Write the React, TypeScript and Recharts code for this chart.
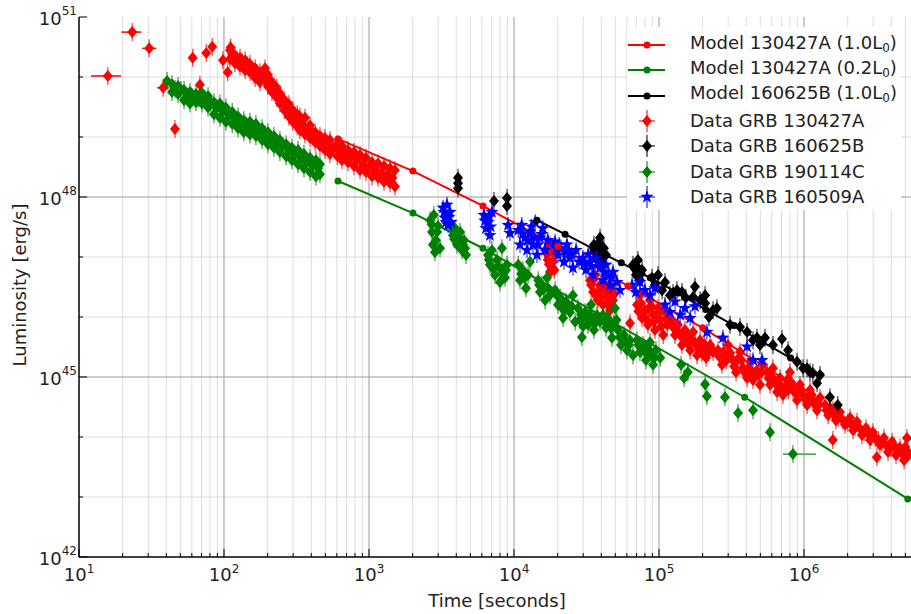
import React from "react";
import {
  ComposedChart,
  Scatter,
  Line,
  XAxis,
  YAxis,
  ReferenceLine,
  ErrorBar,
} from "recharts";

type Pt = [number, number];

const FONT = "'DejaVu Sans', sans-serif";
const RED = "#ff0000";
const GREEN = "#008000";
const BLACK = "#000000";
const BLUE = "#0000ff";

// axis ticks
const xDomain = [10, 5.47e6];
const yDomain = [1e42, 1e51];
const xMajorTicks = [1e1, 1e2, 1e3, 1e4, 1e5, 1e6];
const minorSteps = [2, 3, 4, 5, 6, 7, 8, 9];
const yDecadeTicks = [1e42, 1e43, 1e44, 1e45, 1e46, 1e47, 1e48, 1e49, 1e50, 1e51];
const yLabelledTicks = [1e42, 1e45, 1e48, 1e51];

// model curves [time s, luminosity erg/s]
const model130427A: Pt[] = [
  [611, 9.3e48], [2010, 2.7e48], [6110, 7.1e47], [2.01e4, 1.5e47], [6.11e4, 3.3e46],
  [2.0e5, 6.6e45], [6.0e5, 1.26e45], [2.0e6, 1.9e44], [5.2e6, 4.7e43],
];
const model130427Alow: Pt[] = [
  [611, 1.85e48], [2010, 5.4e47], [6110, 1.4e47], [3.9e5, 4.6e44], [5.2e6, 9.3e42],
];
const model160625B: Pt[] = [
  [1.44e4, 4.1e47], [2.25e4, 2.4e47], [3.5e4, 1.38e47], [5.5e4, 8.0e46], [8.7e4, 4.5e46],
  [1.36e5, 2.5e46], [2.1e5, 1.33e46], [3.3e5, 7.2e45], [5.2e5, 3.8e45], [8.1e5, 2.07e45],
  [1.29e6, 1.1e45],
];

// GRB 130427A data
const grb130427AEarlyT = [15.8, 23.3, 30.5, 38.1];
const grb130427AEarlyL = [1.04e50, 5.6e50, 3.0e50, 6.6e49];
const grb130427AEarlyTLo = [12.1, 19.6, 27.3, 34.6];
const grb130427AEarlyTHi = [19.5, 26.9, 34.1, 41.8];

const grb130427A: Pt[] = [
  [45.9, 1.36e49], [60.8, 2.1e50], [68.2, 7.4e49], [75.5, 2.5e50], [83, 3.2e50],
  [98.4, 1.9e50], [106, 1.2e50], [111, 3.1e50],
  [110, 2.8e50], [110, 2.0e50], [119, 2.3e50], [119, 1.7e50], [129, 2.1e50], [129, 1.5e50],
  [140, 1.9e50], [140, 1.3e50], [151, 1.65e50], [151, 1.2e50], [164, 1.4e50], [164, 9.6e49],
  [177, 1.2e50], [177, 8.2e49], [192, 1.4e50], [192, 8.9e49], [200, 1.1e50], [200, 7.1e49],
  [214, 8.2e49], [214, 5.6e49], [231, 6.6e49], [231, 4.5e49], [243, 5.2e49], [243, 3.6e49],
  [261, 4.1e49], [261, 2.8e49], [280, 3.5e49], [280, 2.2e49], [298, 2.8e49], [298, 1.8e49],
  [320, 2.4e49], [320, 1.5e49], [334, 2.2e49], [334, 1.3e49], [362, 2.1e49], [362, 1.1e49],
  [392, 1.55e49], [392, 9.6e48], [425, 1.2e49], [425, 8.2e48], [459, 1.04e49], [459, 7.1e48],
  [497, 9.6e48], [497, 6.1e48], [538, 8.9e48], [538, 5.2e48], [606, 7.6e48], [606, 4.8e48],
  [651, 7.1e48], [651, 4.1e48], [716, 6.1e48], [716, 3.8e48], [788, 5.6e48], [788, 3.3e48],
  [867, 5.0e48], [867, 2.8e48], [953, 4.5e48], [953, 2.6e48], [1050, 3.8e48], [1050, 2.2e48],
  [1154, 3.6e48], [1154, 2.1e48], [1269, 3.3e48], [1269, 1.8e48], [1396, 3.0e48], [1396, 1.7e48],
  [1510, 2.8e48], [1510, 1.5e48],
  [114, 2.4e50], [124, 1.9e50], [134, 1.75e50], [145, 1.55e50], [157, 1.3e50], [170, 1.15e50],
  [184, 1.05e50], [196, 1.1e50], [207, 8.9e49], [222, 6.8e49], [237, 5.4e49], [252, 4.4e49],
  [270, 3.4e49], [289, 2.8e49], [309, 2.3e49], [327, 1.9e49], [348, 1.6e49], [377, 1.4e49],
  [408, 1.15e49], [442, 9.5e48], [478, 8.4e48], [517, 7.5e48], [572, 6.6e48], [628, 5.8e48],
  [683, 5.1e48], [750, 4.6e48], [827, 4.2e48], [910, 3.5e48], [1000, 3.1e48], [1100, 2.8e48],
  [1210, 2.5e48], [1330, 2.3e48], [1450, 2.1e48],
  [1.64e4, 1.3e47], [1.71e4, 8.9e46], [1.77e4, 1.6e47], [1.83e4, 6.6e46], [1.92e4, 1.08e47], [1.77e4, 5.6e46],
  [1.68e4, 1.15e47], [1.74e4, 7.6e46], [1.8e4, 1.25e47], [1.86e4, 8.3e46], [1.9e4, 6.1e46],
  [3.34e4, 4.1e46], [3.51e4, 2.6e46], [3.62e4, 5.0e46], [3.79e4, 1.9e46], [3.92e4, 3.4e46], [4.11e4, 1.6e46],
  [4.25e4, 2.8e46], [4.45e4, 2.2e46], [4.59e4, 1.3e46], [4.82e4, 1.9e46], [4.74e4, 3.0e46], [6.31e4, 7.9e45],
  [3.4e4, 3.4e46], [3.56e4, 4.3e46], [3.7e4, 2.3e46], [3.86e4, 2.8e46], [4.0e4, 2.1e46], [4.18e4, 3.6e46],
  [4.38e4, 1.7e46], [4.52e4, 2.5e46], [4.66e4, 1.6e46], [4.9e4, 2.4e46],
  [7.05e4, 1.6e46], [7.39e4, 2.3e46], [7.64e4, 9.6e45], [8.0e4, 1.3e46], [8.39e4, 7.4e45], [8.67e4, 1.9e46],
  [9.1e4, 1.08e46], [9.38e4, 6.1e45], [9.85e4, 1.4e46], [1.02e5, 8.9e45], [1.07e5, 5.0e45], [1.1e5, 1.2e46],
  [1.14e5, 7.4e45], [7.2e4, 1.25e46], [7.5e4, 1.7e46], [7.8e4, 1.15e46], [8.2e4, 9.0e45], [8.5e4, 1.4e46],
  [8.9e4, 1.5e46], [9.2e4, 8.3e45], [9.6e4, 1.1e46], [1.0e5, 1.15e46], [1.04e5, 7.0e45], [1.12e5, 9.5e45],
  [1.23e5, 8.9e45], [1.29e5, 5.0e45], [1.35e5, 7.4e45], [1.44e5, 3.4e45], [1.51e5, 6.1e45], [1.58e5, 4.1e45],
  [1.64e5, 2.8e45], [1.72e5, 5.6e45], [1.83e5, 2.3e45], [1.92e5, 4.1e45], [2.01e5, 3.0e45], [2.11e5, 2.1e45],
  [2.25e5, 3.4e45], [2.36e5, 2.6e45], [1.26e5, 6.6e45], [1.32e5, 6.0e45], [1.4e5, 5.0e45], [1.47e5, 4.5e45],
  [1.55e5, 5.0e45], [1.61e5, 3.4e45], [1.68e5, 4.3e45], [1.78e5, 3.6e45], [1.87e5, 3.1e45], [1.97e5, 2.5e45],
  [2.06e5, 3.5e45], [2.2e5, 2.6e45], [2.3e5, 3.0e45],
  [2.55e5, 2.8e45], [2.72e5, 1.6e45], [2.85e5, 2.3e45], [2.99e5, 3.4e45], [3.24e5, 1.9e45], [3.4e5, 1.2e45],
  [3.62e5, 2.6e45], [3.79e5, 1.4e45], [4.05e5, 9.6e44], [4.25e5, 1.8e45], [4.45e5, 8.9e44], [4.74e5, 1.3e45],
  [4.97e5, 7.4e44], [5.21e5, 1.6e45], [2.6e5, 2.2e45], [2.78e5, 2.6e45], [2.92e5, 1.9e45], [3.1e5, 2.5e45],
  [3.3e5, 1.5e45], [3.5e5, 2.0e45], [3.7e5, 1.9e45], [3.9e5, 1.2e45], [4.15e5, 1.4e45], [4.35e5, 1.2e45],
  [4.6e5, 1.05e45], [4.85e5, 1.1e45], [5.1e5, 1.2e45],
  [5.56e5, 1.2e45], [5.83e5, 7.4e44], [6.11e5, 1.4e45], [6.52e5, 5.6e44], [6.83e5, 9.6e44], [7.16e5, 5.0e44],
  [7.64e5, 8.9e44], [8.0e5, 1.2e45], [8.39e5, 6.1e44], [8.95e5, 4.1e44], [9.38e5, 7.4e44], [9.85e5, 5.0e44],
  [1.05e6, 3.4e44], [1.1e6, 6.1e44], [1.15e6, 4.1e44], [1.23e6, 2.8e44], [1.29e6, 4.5e44],
  [5.7e5, 9.5e44], [6.0e5, 1.0e45], [6.3e5, 8.0e44], [6.7e5, 7.5e44], [7.0e5, 7.0e44], [7.4e5, 6.6e44],
  [7.8e5, 6.0e44], [8.2e5, 8.0e44], [8.7e5, 5.5e44], [9.1e5, 5.6e44], [9.6e5, 6.0e44], [1.02e6, 4.3e44],
  [1.07e6, 4.6e44], [1.13e6, 5.0e44], [1.19e6, 3.5e44], [1.26e6, 3.4e44],
  [1.4e6, 3.4e44], [1.47e6, 2.3e44], [1.58e6, 2.8e44], [1.58e6, 8.9e43], [1.66e6, 1.9e44], [1.77e6, 2.6e44],
  [1.92e6, 1.6e44], [2.08e6, 2.1e44], [2.18e6, 1.3e44], [2.32e6, 1.8e44], [2.51e6, 1.08e44], [2.68e6, 1.4e44],
  [2.85e6, 8.9e43], [2.99e6, 1.2e44], [3.18e6, 4.6e43], [3.34e6, 7.4e43], [3.56e6, 9.6e43], [3.8e6, 5.6e43],
  [4.05e6, 8.3e43], [4.31e6, 5.0e43], [4.59e6, 6.6e43], [4.9e6, 4.1e43], [5.13e6, 9.6e43], [5.21e6, 5.6e43],
  [1.43e6, 2.8e44], [1.52e6, 3.0e44], [1.62e6, 2.3e44], [1.72e6, 2.1e44], [1.85e6, 1.9e44], [2.0e6, 1.75e44],
  [2.13e6, 1.6e44], [2.25e6, 1.5e44], [2.42e6, 1.4e44], [2.6e6, 1.2e44], [2.78e6, 1.15e44], [2.92e6, 1.0e44],
  [3.1e6, 9.5e43], [3.26e6, 8.9e43], [3.45e6, 8.0e43], [3.7e6, 7.2e43], [3.95e6, 6.6e43], [4.2e6, 7.0e43],
  [4.45e6, 5.8e43], [4.75e6, 5.2e43], [5.0e6, 6.8e43],
];

// GRB 160625B data
const grb160625B: Pt[] = [
  [4110, 2.1e48], [4110, 1.7e48], [4110, 1.4e48], [7280, 8.6e47], [8950, 9.6e47], [8950, 7.1e47],
  [3.56e4, 1.6e47], [3.68e4, 9.6e46], [3.79e4, 1.3e47], [3.92e4, 2.1e47], [4.05e4, 8.3e46], [4.17e4, 1.4e47],
  [4.31e4, 1.08e47], [3.6e4, 1.2e47], [3.86e4, 1.75e47], [4.0e4, 1.15e47],
  [6.62e4, 7.4e46], [6.93e4, 5.0e46], [7.16e4, 8.9e46], [7.39e4, 4.1e46], [7.64e4, 6.1e46],
  [6.8e4, 6.3e46], [7.0e4, 7.0e46], [7.5e4, 5.2e46],
  [8.95e4, 4.5e46], [9.38e4, 3.4e46], [9.85e4, 5.0e46], [1.05e5, 2.8e46], [1.1e5, 3.8e46], [1.19e5, 2.3e46],
  [1.25e5, 2.5e46], [1.33e5, 2.8e46], [1.44e5, 2.6e46], [1.53e5, 2.1e46], [1.72e5, 2.15e46], [1.77e5, 3.2e46],
  [1.92e5, 1.9e46], [2.08e5, 2.3e46], [2.08e5, 1.7e46], [2.21e5, 1.0e46], [2.36e5, 1.3e46], [2.51e5, 1.4e46],
  [3.09e5, 7.4e45], [3.62e5, 6.8e45], [4.05e5, 5.6e45], [4.45e5, 4.1e45], [4.74e5, 4.5e45], [4.97e5, 3.4e45],
  [5.38e5, 4.5e45], [6.11e5, 3.4e45], [7.05e5, 4.3e45], [7.76e5, 2.8e45], [8.95e5, 1.8e45], [9.85e5, 1.4e45],
  [1.05e6, 1.4e45], [1.1e6, 1.2e45], [1.15e6, 1.17e45], [1.23e6, 7.9e44], [1.29e6, 1.08e45], [1.51e6, 4.6e44],
  [1.71e6, 3.4e44],
];

// GRB 190114C data
const grb190114C: Pt[] = [
  [40.5, 8.6e49], [43.8, 7.6e49], [43.8, 5.6e49], [48.2, 7.1e49], [48.2, 5.2e49], [53, 6.1e49], [53, 4.1e49],
  [58.3, 5.6e49], [58.3, 3.6e49], [64.1, 5.2e49], [64.1, 3.8e49], [70.5, 5.4e49], [70.5, 3.6e49],
  [77.6, 4.8e49], [77.6, 3.1e49], [85.3, 3.8e49], [85.3, 2.4e49], [93.8, 3.6e49], [93.8, 2.1e49],
  [103, 3.1e49], [103, 1.8e49], [114, 2.6e49], [114, 1.65e49], [125, 2.2e49], [125, 1.4e49],
  [137, 1.9e49], [137, 1.2e49], [151, 1.8e49], [151, 1.1e49], [166, 1.65e49], [166, 1.04e49],
  [183, 1.4e49], [183, 8.9e48], [201, 1.2e49], [201, 7.6e48], [221, 1.04e49], [221, 6.6e48],
  [243, 8.9e48], [243, 5.6e48], [268, 7.6e48], [268, 4.8e48], [294, 6.6e48], [294, 4.1e48],
  [324, 6.1e48], [324, 3.5e48], [356, 5.2e48], [356, 3.0e48], [392, 4.5e48], [392, 2.6e48],
  [431, 4.1e48], [431, 2.2e48], [459, 3.5e48], [459, 2.4e48],
  [46, 6.3e49], [50.5, 6.1e49], [55.5, 4.8e49], [61, 4.6e49], [67, 4.4e49], [74, 4.3e49], [81, 3.8e49],
  [89, 3.0e49], [98, 2.7e49], [108, 2.3e49], [119, 2.0e49], [131, 1.7e49], [144, 1.5e49], [158, 1.4e49],
  [174, 1.25e49], [192, 1.1e49], [211, 9.2e48], [232, 8.0e48], [255, 7.0e48], [281, 6.0e48], [309, 5.1e48],
  [340, 4.3e48], [374, 3.8e48], [411, 3.3e48], [445, 3.0e48],
  [2640, 4.1e47], [2720, 2.6e47], [2800, 5.0e47], [2900, 1.9e47], [2990, 3.3e47], [3090, 1.4e47], [2850, 1.2e47],
  [2700, 3.5e47], [2950, 2.6e47], [2760, 1.6e47],
  [3620, 3.8e47], [3790, 2.3e47], [3920, 3.0e47], [4050, 1.6e47], [4250, 2.6e47], [4380, 1.3e47],
  [4520, 1.9e47], [4670, 1.08e47], [3700, 3.3e47], [3860, 2.0e47], [4150, 2.1e47], [4450, 1.6e47], [4600, 1.4e47],
  [6620, 1.08e47], [6820, 7.4e46], [7050, 1.3e47], [7390, 5.0e46], [7640, 8.9e46], [8000, 3.8e46],
  [8260, 6.1e46], [8260, 1.4e47], [8670, 4.5e46], [8950, 7.4e46],
  [6700, 9.0e46], [7200, 6.3e46], [7800, 7.0e46], [8400, 5.2e46], [8800, 6.0e46],
  [1.07e4, 7.4e46], [1.1e4, 4.1e46], [1.15e4, 6.1e46], [1.21e4, 3.0e46], [1.25e4, 5.0e46], [1.29e4, 8.3e46],
  [1.12e4, 5.2e46], [1.18e4, 4.5e46],
  [1.47e4, 4.1e46], [1.51e4, 2.6e46], [1.56e4, 3.4e46], [1.64e4, 1.9e46], [1.69e4, 4.5e46], [1.77e4, 2.3e46],
  [1.49e4, 3.4e46], [1.6e4, 2.9e46], [1.72e4, 3.0e46],
  [1.92e4, 2.8e46], [2.01e4, 1.6e46], [2.08e4, 2.1e46], [2.18e4, 9.6e45], [2.28e4, 1.8e46], [2.43e4, 1.2e46],
  [2.55e4, 2.3e46], [2.64e4, 8.3e45], [1.98e4, 2.3e46], [2.12e4, 1.45e46], [2.24e4, 1.3e46], [2.36e4, 1.6e46],
  [2.5e4, 1.5e46],
  [2.76e4, 1.4e46], [2.85e4, 8.9e45], [2.94e4, 4.6e45], [3.09e4, 1.2e46], [3.24e4, 7.4e45], [3.4e4, 1.6e46],
  [3.56e4, 6.1e45], [3.73e4, 1.08e46], [3.92e4, 8.3e45], [2.9e4, 1.1e46], [3.0e4, 7.0e45], [3.16e4, 9.5e45],
  [3.32e4, 1.1e46], [3.48e4, 9.0e45], [3.65e4, 8.0e45],
  [4.11e4, 1.08e46], [4.31e4, 6.6e45], [4.52e4, 8.9e45], [4.74e4, 4.5e45], [4.97e4, 1.4e46], [5.21e4, 6.1e45],
  [5.47e4, 3.4e45], [5.74e4, 5.0e45], [6.02e4, 2.8e45], [6.31e4, 4.1e45], [6.62e4, 2.3e45],
  [4.2e4, 8.5e45], [4.4e4, 9.8e45], [4.64e4, 6.6e45], [4.86e4, 7.6e45], [5.1e4, 8.9e45], [5.35e4, 4.6e45],
  [5.6e4, 4.1e45], [5.9e4, 3.8e45], [6.2e4, 3.4e45],
  [7.05e4, 4.1e45], [7.39e4, 2.6e45], [7.76e4, 3.4e45], [8.14e4, 1.9e45], [8.67e4, 3.8e45], [9.1e4, 1.6e45],
  [9.53e4, 2.8e45], [1.02e5, 2.1e45], [7.2e4, 3.4e45], [7.6e4, 2.9e45], [8.0e4, 2.6e45], [8.4e4, 2.9e45],
  [8.9e4, 2.3e45], [9.3e4, 2.1e45],
  [1.42e5, 1.6e45], [1.49e5, 9.6e44], [1.58e5, 1.2e45], [2.08e5, 7.6e44], [2.14e5, 4.8e44], [2.85e5, 4.6e44],
  [3.51e5, 2.5e44], [4.45e5, 2.8e44], [5.83e5, 1.2e44],
];
const grb190114CLateT = [8.39e5];
const grb190114CLateL = [5.2e43];
const grb190114CLateTLo = [7.16e5];
const grb190114CLateTHi = [1.21e6];

// GRB 160509A data
const grb160509A: Pt[] = [
  [3240, 6.6e47], [3340, 4.5e47], [3450, 7.4e47], [3510, 3.4e47], [3620, 5.6e47], [3680, 3.8e47],
  [3300, 5.6e47], [3560, 4.6e47], [3400, 3.8e47],
  [6210, 5.0e47], [6410, 3.0e47], [6620, 3.8e47], [6820, 2.3e47], [7050, 5.6e47], [9100, 3.4e47], [9380, 2.5e47],
  [6300, 4.0e47], [6700, 4.6e47], [6900, 3.2e47],
  [1.07e4, 2.8e47], [1.1e4, 1.6e47], [1.13e4, 3.4e47], [1.19e4, 2.1e47], [1.23e4, 1.3e47], [1.29e4, 2.6e47],
  [1.35e4, 1.6e47], [1.4e4, 3.8e47], [1.44e4, 1.08e47], [1.51e4, 2.1e47], [1.58e4, 3.0e47], [1.64e4, 1.3e47],
  [1.71e4, 1.9e47], [1.15e4, 2.4e47], [1.25e4, 1.9e47], [1.32e4, 3.2e47], [1.38e4, 2.1e47], [1.47e4, 1.6e47],
  [1.55e4, 2.4e47],
  [1.92e4, 1.8e47], [2.01e4, 1.08e47], [2.11e4, 1.4e47], [2.21e4, 8.3e46], [2.32e4, 1.6e47], [2.43e4, 9.6e46],
  [2.55e4, 6.6e46], [2.68e4, 1.3e47], [2.81e4, 8.3e46], [1.95e4, 1.4e47], [2.05e4, 1.6e47], [2.26e4, 1.2e47],
  [2.38e4, 1.3e47], [2.5e4, 1.1e47],
  [2.99e4, 9.6e46], [3.14e4, 6.1e46], [3.34e4, 8.3e46], [3.51e4, 5.0e46], [3.68e4, 9.6e46], [3.92e4, 6.6e46],
  [4.11e4, 4.1e46], [4.31e4, 7.4e46], [4.59e4, 3.4e46], [4.82e4, 5.6e46], [5.13e4, 3.8e46], [5.38e4, 2.8e46],
  [3.05e4, 7.6e46], [3.25e4, 1.1e47], [3.42e4, 7.0e46], [3.8e4, 8.0e46], [4.2e4, 5.6e46], [4.45e4, 5.0e46],
  [4.7e4, 4.5e46],
  [6.52e4, 3.4e46], [6.93e4, 2.6e46], [7.39e4, 3.8e46], [8.0e4, 2.8e46], [8.67e4, 2.3e46], [9.38e4, 3.0e46],
  [1.1e5, 1.6e46], [1.19e5, 1.2e46], [1.29e5, 1.8e46], [1.4e5, 1.08e46], [1.51e5, 1.4e46], [1.64e5, 9.6e45],
  [1.77e5, 1.5e46],
  [2.14e5, 5.6e45], [2.76e5, 4.5e45], [4.05e5, 3.2e45], [4.45e5, 1.9e45], [5.13e5, 1.9e45],
];

const toRows = (pts: Pt[]) => pts.map(([t, L]) => ({ t, L }));
const withXErr = (ts: number[], ls: number[], lo: number[], hi: number[]) =>
  ts.map((t, i) => ({ t, L: ls[i], xErr: [t - lo[i], hi[i] - t] }));

const isDecade = (v: number) => Math.abs(Math.log10(v) - Math.round(Math.log10(v))) < 1e-6;

const xTicks: number[] = [];
xMajorTicks.forEach((d) => {
  xTicks.push(d);
  minorSteps.forEach((s) => {
    if (d * s <= xDomain[1]) xTicks.push(d * s);
  });
});
const xMinorTicks = xTicks.filter((v) => !isDecade(v));

const makeDiamond = (color: string) => (props: any) => {
  const { cx, cy } = props;
  if (cx == null || cy == null) return <g />;
  return (
    <g>
      <line x1={cx} x2={cx} y1={cy - 9} y2={cy + 9} stroke={color} strokeWidth={1.3} strokeOpacity={0.7} />
      <polygon
        points={`${cx},${cy - 6} ${cx + 5},${cy} ${cx},${cy + 6} ${cx - 5},${cy}`}
        fill={color}
      />
    </g>
  );
};

const starPath = (cx: number, cy: number, R: number, r: number) => {
  let d = "";
  for (let i = 0; i < 10; i++) {
    const a = -Math.PI / 2 + (i * Math.PI) / 5;
    const rad = i % 2 === 0 ? R : r;
    d += (i ? "L" : "M") + (cx + rad * Math.cos(a)).toFixed(2) + "," + (cy + rad * Math.sin(a)).toFixed(2);
  }
  return d + "Z";
};

const makeStar = (color: string) => (props: any) => {
  const { cx, cy } = props;
  if (cx == null || cy == null) return <g />;
  return (
    <g>
      <line x1={cx} x2={cx} y1={cy - 8} y2={cy + 8} stroke={color} strokeWidth={1.3} strokeOpacity={0.7} />
      <path d={starPath(cx, cy, 7, 2.8)} fill={color} />
    </g>
  );
};

const BottomTick = (props: any) => {
  const { x, y, payload } = props;
  const v = payload.value;
  const major = isDecade(v);
  return (
    <g>
      <line x1={x} x2={x} y1={y} y2={y - (major ? 8 : 4)} stroke="#000" strokeWidth={1} />
      {major && (
        <text x={x} y={y + 24} textAnchor="middle" fontSize={18} fontFamily={FONT} fill="#222">
          10
          <tspan dy={-8} fontSize={12}>
            {Math.round(Math.log10(v))}
          </tspan>
        </text>
      )}
    </g>
  );
};

const TopTick = (props: any) => {
  const { x, y, payload } = props;
  const major = isDecade(payload.value);
  return <line x1={x} x2={x} y1={y} y2={y + (major ? 8 : 4)} stroke="#000" strokeWidth={1} />;
};

const LeftTick = (props: any) => {
  const { x, y, payload } = props;
  const v = payload.value;
  const labelled = yLabelledTicks.some((t) => Math.abs(Math.log10(t) - Math.log10(v)) < 1e-6);
  return (
    <g>
      <line x1={x} x2={x + (labelled ? 8 : 4)} y1={y} y2={y} stroke="#000" strokeWidth={1} />
      {labelled && (
        <text x={x - 2} y={y + 8} textAnchor="end" fontSize={18} fontFamily={FONT} fill="#222">
          10
          <tspan dy={-10} fontSize={12}>
            {Math.round(Math.log10(v))}
          </tspan>
        </text>
      )}
    </g>
  );
};

const legendRows = [
  { kind: "model", color: RED, text: "Model 130427A (1.0L", sub: true, end: ")" },
  { kind: "model", color: GREEN, text: "Model 130427A (0.2L", sub: true, end: ")" },
  { kind: "model", color: BLACK, text: "Model 160625B (1.0L", sub: true, end: ")" },
  { kind: "diamond", color: RED, text: "Data GRB 130427A" },
  { kind: "diamond", color: BLACK, text: "Data GRB 160625B" },
  { kind: "diamond", color: GREEN, text: "Data GRB 190114C" },
  { kind: "star", color: BLUE, text: "Data GRB 160509A" },
];

const LegendIcon = ({ kind, color }: { kind: string; color: string }) => (
  <svg width={40} height={26} style={{ display: "block" }}>
    {kind === "model" ? (
      <g>
        <line x1={1} x2={38} y1={13} y2={13} stroke={color} strokeWidth={2} />
        <circle cx={20} cy={13} r={3.5} fill={color} />
      </g>
    ) : (
      <g>
        <line x1={20} x2={20} y1={2} y2={24} stroke={color} strokeWidth={1.3} strokeOpacity={0.8} />
        <line x1={12} x2={28} y1={13} y2={13} stroke={color} strokeWidth={1.3} strokeOpacity={0.8} />
        {kind === "star" ? (
          <path d={starPath(20, 13, 7, 2.8)} fill={color} />
        ) : (
          <polygon points="20,7 25,13 20,19 15,13" fill={color} />
        )}
      </g>
    )}
  </svg>
);

const App = () => {
  const early = withXErr(grb130427AEarlyT, grb130427AEarlyL, grb130427AEarlyTLo, grb130427AEarlyTHi);
  const late = withXErr(grb190114CLateT, grb190114CLateL, grb190114CLateTLo, grb190114CLateTHi);
  return (
    <div style={{ position: "absolute", left: 0, top: 0, width: 911, height: 614, background: "#fff", fontFamily: FONT }}>
      <ComposedChart width={911} height={614} margin={{ top: 17, right: 0, bottom: 0, left: 0 }}>
        <XAxis
          dataKey="t"
          type="number"
          scale="log"
          domain={xDomain}
          allowDataOverflow
          ticks={xTicks}
          interval={0}
          height={57}
          tickSize={0}
          tickMargin={0}
          tickLine={false}
          axisLine={{ stroke: "#000", strokeWidth: 1.5 }}
          tick={BottomTick}
        />
        <XAxis
          xAxisId="top"
          orientation="top"
          type="number"
          scale="log"
          domain={xDomain}
          allowDataOverflow
          ticks={xTicks}
          interval={0}
          height={0}
          tickSize={0}
          tickMargin={0}
          tickLine={false}
          axisLine={{ stroke: "#000", strokeWidth: 1.5 }}
          tick={TopTick}
        />
        <YAxis
          dataKey="L"
          type="number"
          scale="log"
          domain={yDomain}
          allowDataOverflow
          ticks={yDecadeTicks}
          interval={0}
          width={79}
          tickSize={0}
          tickMargin={0}
          tickLine={false}
          axisLine={{ stroke: "#000", strokeWidth: 1.5 }}
          tick={LeftTick}
        />

        {xMinorTicks.map((v) => (
          <ReferenceLine key={"xm" + v} x={v} stroke="#dcdcdc" strokeWidth={1} />
        ))}
        {yDecadeTicks
          .filter((v) => !yLabelledTicks.includes(v))
          .map((v) => (
            <ReferenceLine key={"ym" + v} y={v} stroke="#dcdcdc" strokeWidth={1} />
          ))}
        {xMajorTicks.slice(1).map((v) => (
          <ReferenceLine key={"xM" + v} x={v} stroke="#999" strokeWidth={1} />
        ))}
        {[1e45, 1e48].map((v) => (
          <ReferenceLine key={"yM" + v} y={v} stroke="#999" strokeWidth={1} />
        ))}

        <Scatter data={early} shape={makeDiamond(RED)} isAnimationActive={false}>
          <ErrorBar dataKey="xErr" direction="x" width={0} stroke={RED} strokeWidth={1.5} />
        </Scatter>
        <Scatter data={toRows(grb130427A)} shape={makeDiamond(RED)} isAnimationActive={false} />
        <Scatter data={toRows(grb160625B)} shape={makeDiamond(BLACK)} isAnimationActive={false} />
        <Scatter data={toRows(grb190114C)} shape={makeDiamond(GREEN)} isAnimationActive={false} />
        <Scatter data={late} shape={makeDiamond(GREEN)} isAnimationActive={false}>
          <ErrorBar dataKey="xErr" direction="x" width={0} stroke="#5aa85a" strokeWidth={1.8} />
        </Scatter>
        <Scatter data={toRows(grb160509A)} shape={makeStar(BLUE)} isAnimationActive={false} />

        <Line
          data={toRows(model130427A)}
          dataKey="L"
          type="linear"
          stroke={RED}
          strokeWidth={2}
          dot={{ r: 3.5, fill: RED, stroke: RED, strokeWidth: 0 }}
          isAnimationActive={false}
        />
        <Line
          data={toRows(model130427Alow)}
          dataKey="L"
          type="linear"
          stroke={GREEN}
          strokeWidth={2}
          dot={{ r: 3.5, fill: GREEN, stroke: GREEN, strokeWidth: 0 }}
          isAnimationActive={false}
        />
        <Line
          data={toRows(model160625B)}
          dataKey="L"
          type="linear"
          stroke={BLACK}
          strokeWidth={2}
          dot={{ r: 3.5, fill: BLACK, stroke: BLACK, strokeWidth: 0 }}
          isAnimationActive={false}
        />
      </ComposedChart>

      <div
        style={{
          position: "absolute",
          left: 627,
          top: 27,
          width: 274,
          height: 183,
          background: "#fff",
        }}
      >
        {legendRows.map((r, i) => (
          <div
            key={r.text}
            style={{ position: "absolute", left: 0, top: 5 + i * 25.3, height: 26, display: "flex", alignItems: "center" }}
          >
            <LegendIcon kind={r.kind} color={r.color} />
            <span style={{ marginLeft: 23, fontSize: 18, color: "#222", whiteSpace: "nowrap", lineHeight: "26px" }}>
              {r.text}
              {r.sub && <sub style={{ fontSize: 12, verticalAlign: "-3px" }}>0</sub>}
              {r.end}
            </span>
          </div>
        ))}
      </div>

      <div
        style={{
          position: "absolute",
          left: 497,
          top: 590,
          transform: "translateX(-50%)",
          fontSize: 18,
          lineHeight: "21px",
          color: "#222",
          whiteSpace: "nowrap",
        }}
      >
        Time [seconds]
      </div>
      <div
        style={{
          position: "absolute",
          left: 19,
          top: 285,
          transform: "translate(-50%, -50%) rotate(-90deg)",
          fontSize: 18,
          lineHeight: "21px",
          color: "#222",
          whiteSpace: "nowrap",
        }}
      >
        Luminosity [erg/s]
      </div>
    </div>
  );
};

export default App;
